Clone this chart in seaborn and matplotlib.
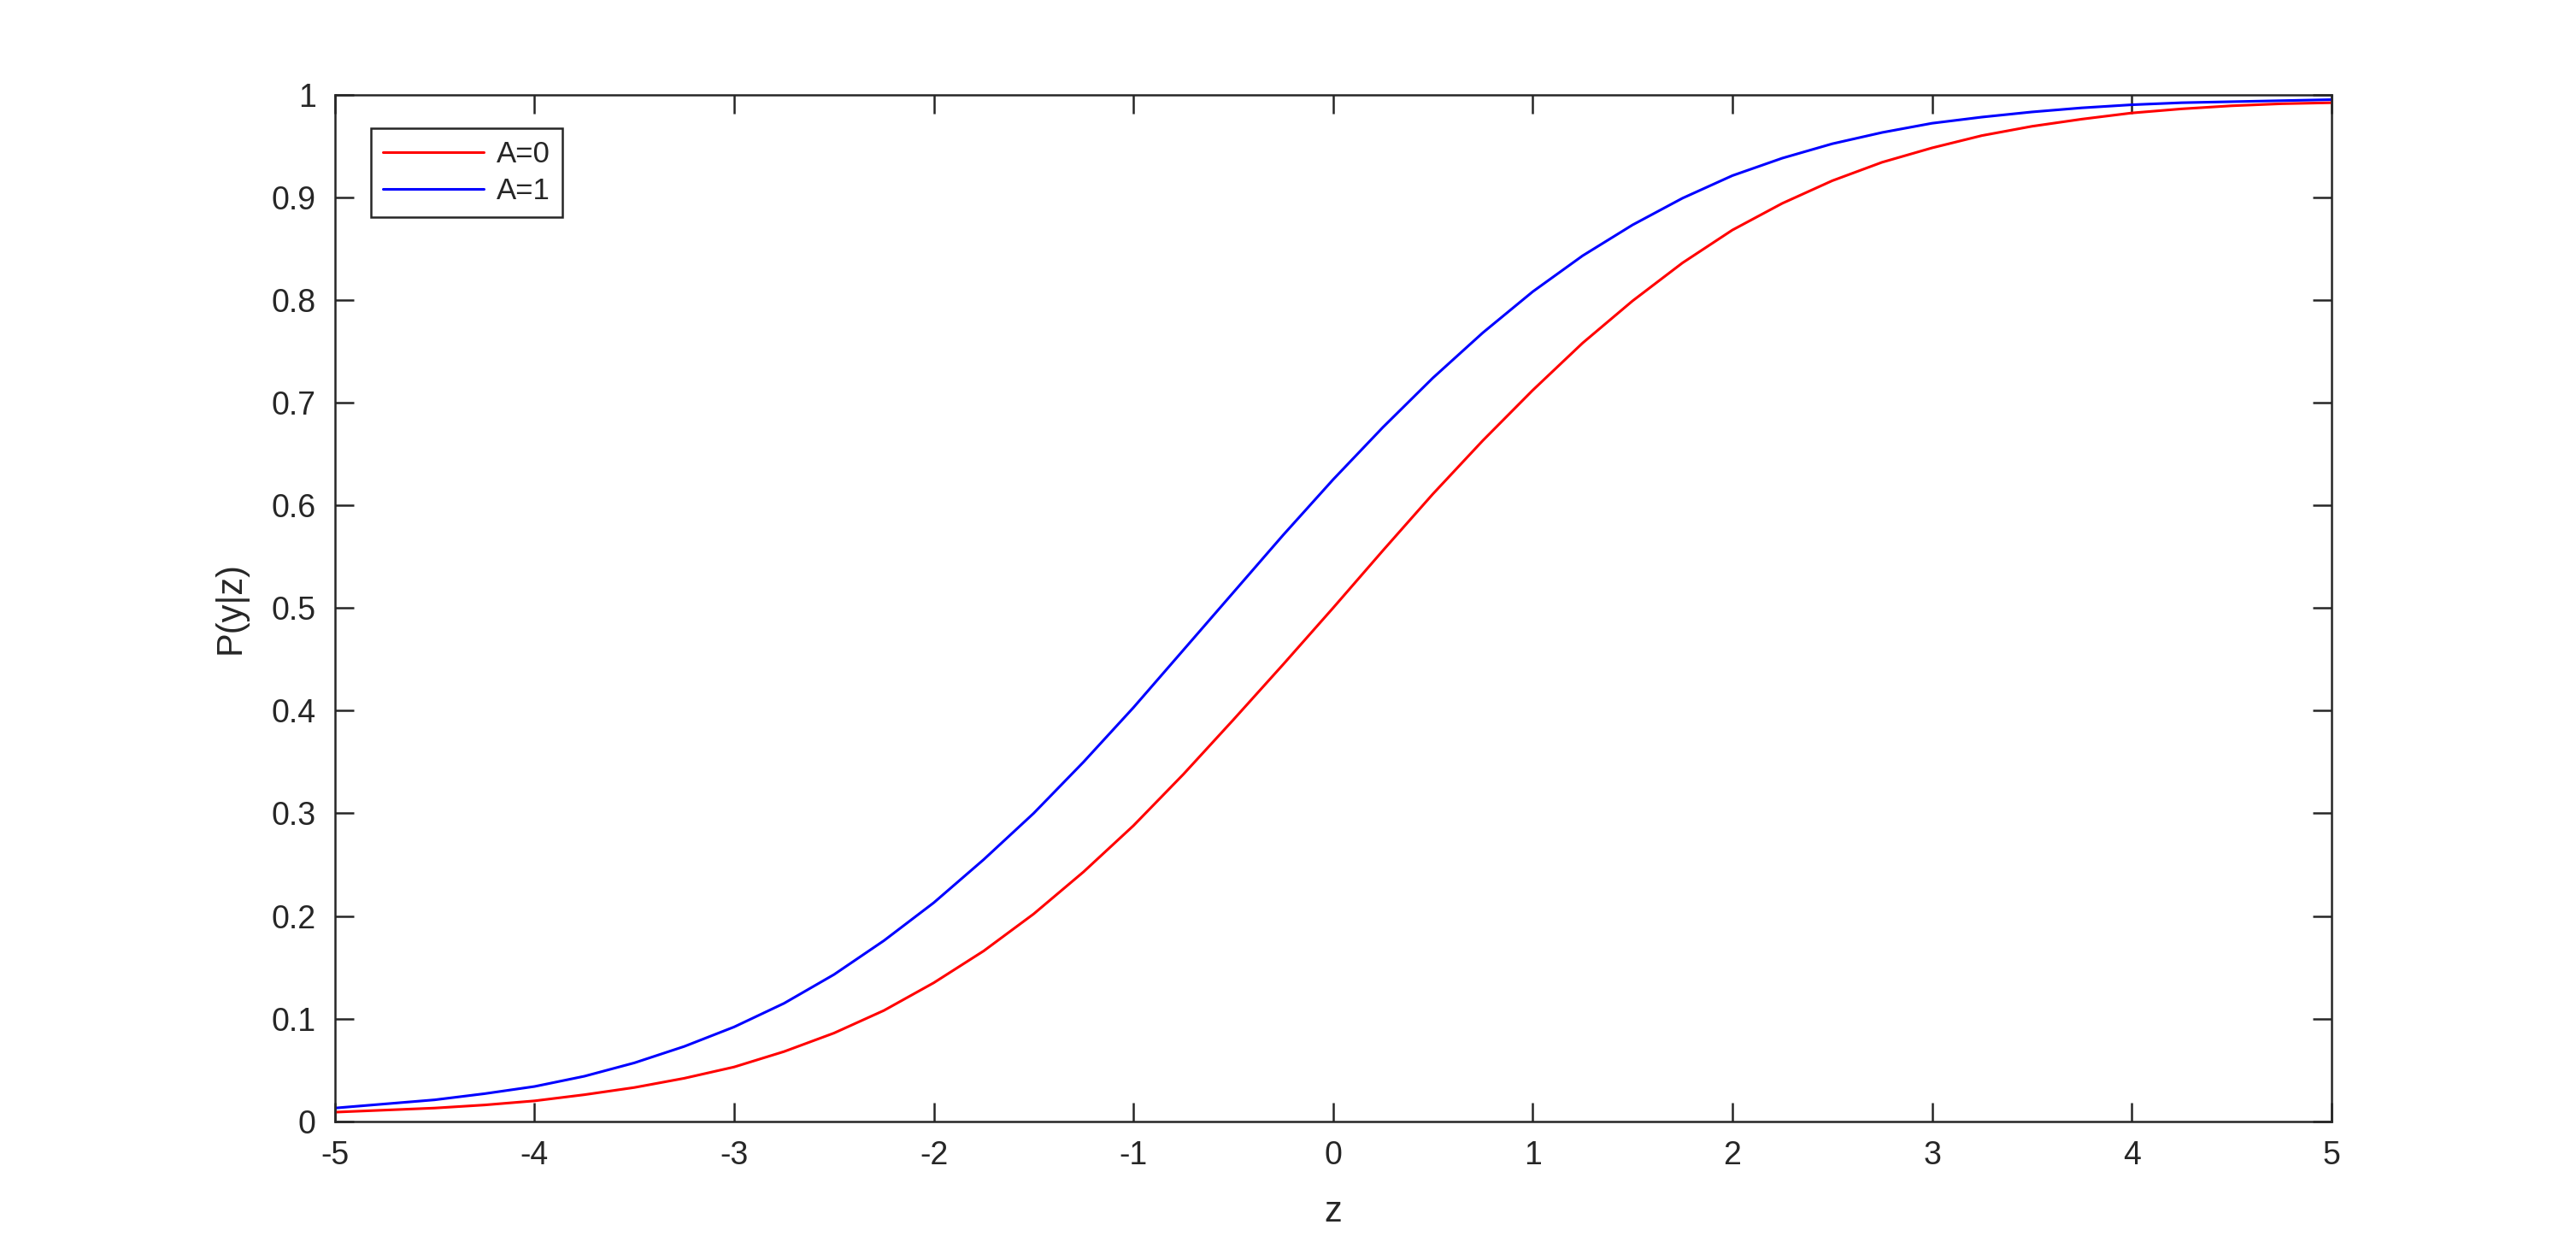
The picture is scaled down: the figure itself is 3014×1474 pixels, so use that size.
import numpy as np
import pandas as pd
import matplotlib
matplotlib.use("Agg")
import matplotlib.pyplot as plt
import seaborn as sns

# ---- data ----
z_values = [-5.00, -4.75, -4.50, -4.25, -4.00, -3.75, -3.50, -3.25, -3.00, -2.75,
            -2.50, -2.25, -2.00, -1.75, -1.50, -1.25, -1.00, -0.75, -0.50, -0.25,
            0.00, 0.25, 0.50, 0.75, 1.00, 1.25, 1.50, 1.75, 2.00, 2.25,
            2.50, 2.75, 3.00, 3.25, 3.50, 3.75, 4.00, 4.25, 4.50, 4.75, 5.00]

p_a0 = [0.009, 0.011, 0.013, 0.016, 0.020, 0.026, 0.033, 0.042, 0.053, 0.068,
        0.086, 0.108, 0.135, 0.166, 0.202, 0.243, 0.288, 0.338, 0.391, 0.445,
        0.500, 0.556, 0.611, 0.663, 0.712, 0.758, 0.799, 0.836, 0.868, 0.894,
        0.916, 0.934, 0.948, 0.960, 0.969, 0.976, 0.982, 0.986, 0.989, 0.991, 0.992]

p_a1 = [0.013, 0.017, 0.021, 0.027, 0.034, 0.044, 0.057, 0.073, 0.092, 0.115,
        0.143, 0.176, 0.213, 0.255, 0.300, 0.350, 0.403, 0.459, 0.515, 0.571,
        0.625, 0.676, 0.724, 0.768, 0.808, 0.843, 0.873, 0.899, 0.921, 0.938,
        0.952, 0.963, 0.972, 0.978, 0.983, 0.987, 0.990, 0.992, 0.993, 0.994, 0.995]

series_names = ["A=0", "A=1"]
series_colors = ["#ff0000", "#0000ff"]
x_ticks = [-5, -4, -3, -2, -1, 0, 1, 2, 3, 4, 5]
y_ticks = [0, 0.1, 0.2, 0.3, 0.4, 0.5, 0.6, 0.7, 0.8, 0.9, 1]
y_tick_labels = ["0", "0.1", "0.2", "0.3", "0.4", "0.5", "0.6", "0.7", "0.8", "0.9", "1"]

df = pd.concat([
    pd.DataFrame({"z": z_values, "P": p_a0, "A": series_names[0]}),
    pd.DataFrame({"z": z_values, "P": p_a1, "A": series_names[1]}),
], ignore_index=True)

# ---- styling ----
sns.set_theme(style="ticks")
plt.rcParams["font.family"] = ["Liberation Sans", "DejaVu Sans"]
plt.rcParams["axes.unicode_minus"] = False

fig = plt.figure(figsize=(15.07, 7.37), dpi=200)
ax = fig.add_axes([0.13, 0.11, 0.775, 0.815])

sns.lineplot(data=df, x="z", y="P", hue="A", hue_order=series_names,
             palette=dict(zip(series_names, series_colors)),
             linewidth=1.1, ax=ax, legend=True, estimator=None, sort=False)

ax.set_xlim(-5, 5)
ax.set_ylim(0, 1)
ax.set_xticks(x_ticks)
ax.set_xticklabels([str(t) for t in x_ticks])
ax.set_yticks(y_ticks)
ax.set_yticklabels(y_tick_labels)

edge = "#262626"
for s in ax.spines.values():
    s.set_visible(True)
    s.set_color(edge)
    s.set_linewidth(0.9)
ax.tick_params(axis="both", which="major", direction="in", length=8, width=0.9,
               color=edge, labelcolor=edge, labelsize=13.5, pad=8,
               top=True, right=True)

ax.set_xlabel("z", fontsize=15, color=edge, labelpad=10)
ax.set_ylabel("P(y|z)", fontsize=15, color=edge, labelpad=10)

leg = ax.legend(loc="upper left", bbox_to_anchor=(0.018, 0.967), borderaxespad=0,
                fontsize=12.5, frameon=True, fancybox=False, handlelength=3.4,
                handletextpad=0.45, borderpad=0.4, labelspacing=0.3, title=None)
leg.get_frame().set_edgecolor(edge)
leg.get_frame().set_linewidth(0.9)
leg.get_frame().set_facecolor("white")
leg.get_frame().set_alpha(1)

fig.savefig("out.png", dpi=200, facecolor="white")
